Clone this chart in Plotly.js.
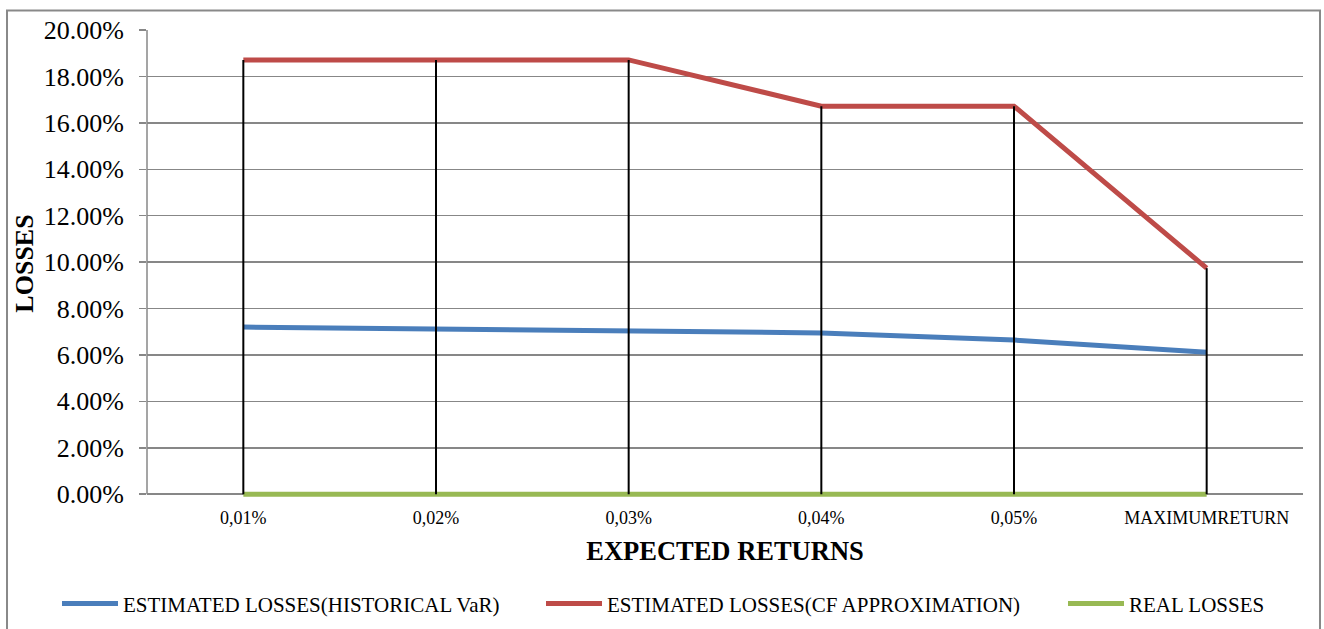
<!DOCTYPE html>
<html>
<head>
<meta charset="utf-8">
<script src="https://cdn.plot.ly/plotly-3.0.1.min.js"></script>
<style>
html,body{margin:0;padding:0;background:#fff;}
#chart{width:1324px;height:629px;}
</style>
</head>
<body>
<div id="chart"></div>
<script>
var categories = ["0,01%", "0,02%", "0,03%", "0,04%", "0,05%", "MAXIMUMRETURN"];
var historicalVaR = [0.0720, 0.0711, 0.0703, 0.0695, 0.0664, 0.0612];
var cfApproximation = [0.1871, 0.1871, 0.1871, 0.1672, 0.1672, 0.0974];
var realLosses = [0, 0, 0, 0, 0, 0];
var seriesNames = ["ESTIMATED LOSSES(HISTORICAL VaR)", "ESTIMATED LOSSES(CF APPROXIMATION)", "REAL LOSSES"];
var yTicks = [0, 0.02, 0.04, 0.06, 0.08, 0.10, 0.12, 0.14, 0.16, 0.18, 0.20];

// high-low (drop) lines built from the data
var dropX = [], dropY = [];
for (var i = 0; i < categories.length; i++) {
  var hi = Math.max(historicalVaR[i], cfApproximation[i], realLosses[i]);
  var lo = Math.min(historicalVaR[i], cfApproximation[i], realLosses[i]);
  dropX.push(categories[i], categories[i], null);
  dropY.push(lo, hi, null);
}

var font = "Liberation Serif";
var traces = [
  {x: categories, y: historicalVaR, name: seriesNames[0], type: "scatter", mode: "lines",
   legend: "legend", line: {color: "#4A7EBB", width: 5}},
  {x: categories, y: cfApproximation, name: seriesNames[1], type: "scatter", mode: "lines",
   legend: "legend2", line: {color: "#BE4B48", width: 5}},
  {x: categories, y: realLosses, name: seriesNames[2], type: "scatter", mode: "lines",
   legend: "legend3", line: {color: "#98B954", width: 5}},
  {x: dropX, y: dropY, type: "scatter", mode: "lines", showlegend: false, hoverinfo: "skip",
   line: {color: "#000000", width: 2}}
];

function legendAt(px) {
  return {orientation: "h", xref: "container", yref: "container", x: px / 1324, xanchor: "left",
    y: 0.04, yanchor: "middle", itemwidth: 56, bgcolor: "rgba(0,0,0,0)",
    font: {family: font, size: 21, color: "#000"}};
}

var layout = {
  width: 1324, height: 629,
  margin: {l: 147, r: 21, t: 30, b: 132},
  paper_bgcolor: "#ffffff", plot_bgcolor: "#ffffff",
  font: {family: font, color: "#000"},
  showlegend: true,
  legend: legendAt(57),
  legend2: legendAt(541),
  legend3: legendAt(1063),
  xaxis: {type: "category", range: [-0.5, 5.5], showgrid: false, zeroline: false,
    showline: false, ticks: "", tickfont: {family: font, size: 18, color: "#000"},
    ticklabelstandoff: 8, automargin: false,
    title: {text: "EXPECTED RETURNS", font: {family: font, size: 26.5, color: "#000", weight: "bold"}, standoff: 14},
    fixedrange: true},
  yaxis: {range: [-0.0012, 0.2], tickvals: yTicks, tickformat: ".2%", showgrid: true,
    gridcolor: "#878787", gridwidth: 1.5, zeroline: false, showline: false, automargin: false,
    ticks: "outside", ticklen: 7, tickcolor: "#878787", tickwidth: 1.5,
    tickfont: {family: font, size: 26, color: "#000"}, ticklabelstandoff: 10,
    title: {text: "LOSSES", font: {family: font, size: 26, color: "#000", weight: "bold"}, standoff: 2},
    fixedrange: true},
  shapes: [
    {type: "line", xref: "paper", yref: "y", x0: 0, x1: 0, y0: 0, y1: 0.2,
     line: {color: "#878787", width: 1.5}, layer: "below"},
    {type: "rect", xref: "paper", yref: "paper", x0: -0.1211, x1: 1.0147, y0: -0.40, y1: 1.042,
     line: {color: "#898989", width: 2}, fillcolor: "rgba(0,0,0,0)", layer: "below"}
  ]
};

Plotly.newPlot("chart", traces, layout, {displayModeBar: false, staticPlot: true});
</script>
</body>
</html>
